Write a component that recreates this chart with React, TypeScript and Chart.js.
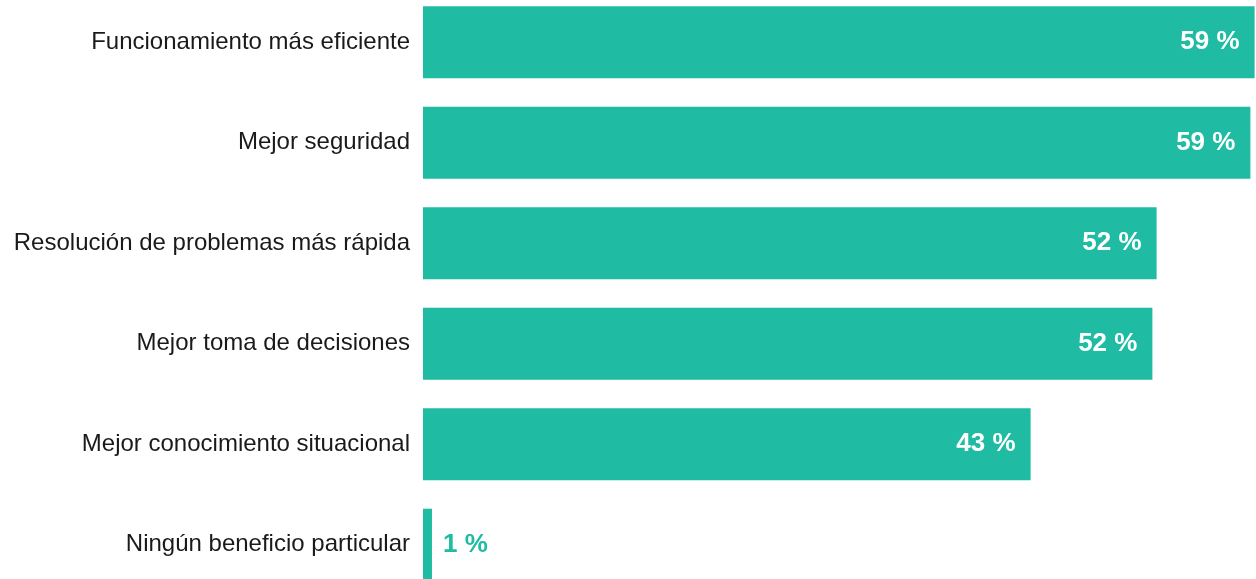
import React, { useEffect, useRef } from "react";
import { Chart, registerables } from "chart.js";

Chart.register(...registerables);

const categories: string[] = [
  "Funcionamiento más eficiente",
  "Mejor seguridad",
  "Resolución de problemas más rápida",
  "Mejor toma de decisiones",
  "Mejor conocimiento situacional",
  "Ningún beneficio particular",
];

const values: number[] = [59.4, 59.1, 52.4, 52.1, 43.4, 0.64];

const BAR_COLOR = "#1fbba2";
const FONT = "'Liberation Sans', Arial, Helvetica, sans-serif";

const valueLabelPlugin = {
  id: "valueLabels",
  afterDatasetsDraw(chart: any) {
    const ctx = chart.ctx;
    const meta = chart.getDatasetMeta(0);
    ctx.save();
    ctx.font = `bold 26px ${FONT}`;
    ctx.textBaseline = "middle";
    meta.data.forEach((bar: any, i: number) => {
      const v = values[i];
      const text = `${Math.round(v)} %`;
      const w = bar.x - bar.base;
      if (w > 80) {
        ctx.fillStyle = "#ffffff";
        ctx.textAlign = "right";
        ctx.fillText(text, bar.x - 15, bar.y);
      } else {
        ctx.fillStyle = BAR_COLOR;
        ctx.textAlign = "left";
        ctx.fillText(text, bar.x + 11, bar.y);
      }
    });
    ctx.restore();
  },
};

export default function App() {
  const canvasRef = useRef<HTMLCanvasElement | null>(null);

  useEffect(() => {
    document.body.style.margin = "0";
    document.body.style.overflow = "hidden";
    if (!canvasRef.current) return;
    const chart = new Chart(canvasRef.current, {
      type: "bar",
      data: {
        labels: categories,
        datasets: [
          {
            data: values,
            backgroundColor: BAR_COLOR,
            borderWidth: 0,
            barPercentage: 0.717,
            categoryPercentage: 1,
          },
        ],
      },
      options: {
        indexAxis: "y",
        animation: false,
        responsive: true,
        maintainAspectRatio: false,
        layout: { padding: 0 },
        plugins: {
          legend: { display: false },
          tooltip: { enabled: false },
        },
        scales: {
          x: {
            display: false,
            min: 0,
            max: 59.5,
          },
          y: {
            grid: { display: false, drawTicks: false },
            border: { display: false },
            ticks: {
              color: "#1a1a1a",
              padding: 13,
              font: { family: FONT, size: 24 },
            },
            afterFit(scale: any) {
              scale.width = 423;
              scale.paddingTop = 0;
              scale.paddingBottom = 0;
            },
          },
        },
      },
      plugins: [valueLabelPlugin],
    });
    return () => chart.destroy();
  }, []);

  return (
    <div
      style={{
        position: "fixed",
        top: -8,
        left: 0,
        width: 1256,
        height: 603,
      }}
    >
      <canvas ref={canvasRef} />
    </div>
  );
}
